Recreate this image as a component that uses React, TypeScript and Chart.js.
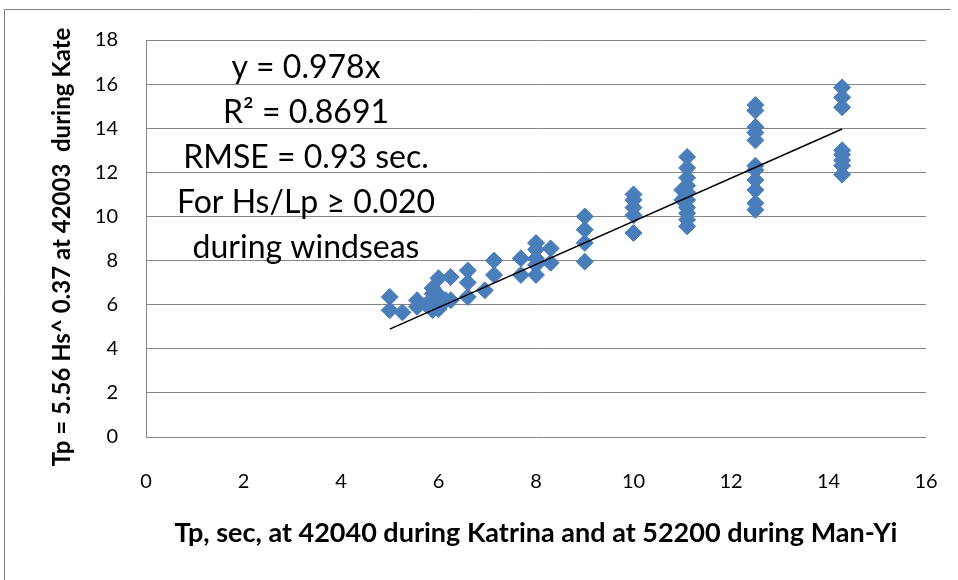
import React, { useEffect, useRef } from "react";
import { Chart, registerables } from "chart.js";

Chart.register(...registerables);

const xValues: number[] = [
  5.0, 5.0,
  5.26,
  5.56, 5.56,
  5.75,
  5.88, 5.88, 5.88, 5.88,
  6.0, 6.0, 6.0,
  6.15,
  6.25, 6.25,
  6.6, 6.6, 6.6,
  6.95,
  7.14, 7.14,
  7.69, 7.69,
  8.0, 8.0, 8.0, 8.0, 8.0,
  8.3, 8.3,
  9.0, 9.0, 9.0, 9.0,
  10.0, 10.0, 10.0, 10.0, 10.0,
  11.0, 11.0,
  11.1, 11.1, 11.1, 11.1, 11.1, 11.1, 11.1, 11.1, 11.1, 11.1,
  12.5, 12.5, 12.5, 12.5, 12.5, 12.5, 12.5, 12.5, 12.5, 12.5, 12.5,
  14.28, 14.28, 14.28, 14.28, 14.28, 14.28, 14.28, 14.28,
];

const yValues: number[] = [
  6.35, 5.75,
  5.65,
  6.2, 5.9,
  6.0,
  6.5, 6.75, 6.1, 5.75,
  7.2, 6.45, 5.8,
  6.2,
  7.25, 6.2,
  7.55, 7.0, 6.35,
  6.65,
  8.0, 7.35,
  8.1, 7.35,
  8.8, 8.5, 8.1, 7.8, 7.35,
  8.55, 7.9,
  10.0, 9.4, 8.8, 7.95,
  11.0, 10.75, 10.4, 10.05, 9.25,
  11.2, 10.75,
  12.7, 12.2, 11.75, 11.4, 11.1, 10.75, 10.4, 10.15, 9.85, 9.55,
  15.05, 14.8, 14.05, 13.8, 13.45, 12.3, 12.1, 11.65, 11.2, 10.6, 10.3,
  15.85, 15.4, 14.95, 13.0, 12.8, 12.55, 12.3, 11.9,
];

const trendSlope = 0.978;
const trendRange: number[] = [5.0, 14.28];

const annotationLines: string[] = [
  "y = 0.978x",
  "R\u00B2 = 0.8691",
  "RMSE = 0.93 sec.",
  "For Hs/Lp \u2265 0.020",
  "during windseas",
];

const xTitle = "Tp, sec, at 42040 during Katrina and at 52200 during Man-Yi";
const yTitle = "Tp = 5.56 Hs^ 0.37 at 42003  during Kate";

const FONT = "Lato, 'Liberation Sans', Arial, sans-serif";

export default function App() {
  const ref = useRef<HTMLCanvasElement | null>(null);

  useEffect(() => {
    if (!ref.current) return;
    const points = xValues.map((x, i) => ({ x, y: yValues[i] }));
    const trend = trendRange.map((x) => ({ x, y: trendSlope * x }));

    const decor = {
      id: "decor",
      beforeDraw(chart: any) {
        const ctx = chart.ctx;
        ctx.save();
        ctx.fillStyle = "#ffffff";
        ctx.fillRect(0, 0, chart.width, chart.height);
        ctx.strokeStyle = "#7f7f7f";
        ctx.lineWidth = 1;
        ctx.beginPath();
        ctx.moveTo(4.5, 580);
        ctx.lineTo(4.5, 9.5);
        ctx.lineTo(950.5, 9.5);
        ctx.stroke();
        ctx.restore();
      },
      afterDraw(chart: any) {
        const ctx = chart.ctx;
        ctx.save();
        ctx.fillStyle = "#000000";
        ctx.font = `32px ${FONT}`;
        ctx.textAlign = "center";
        ctx.textBaseline = "middle";
        const cx = 306;
        annotationLines.forEach((t, i) => {
          ctx.fillText(t, cx, 68 + i * 45);
        });
        ctx.restore();

        // y-axis title (slightly below the plot centre, as in the reference)
        ctx.save();
        ctx.fillStyle = "#000000";
        ctx.font = `bold 24px ${FONT}`;
        ctx.textAlign = "center";
        ctx.textBaseline = "middle";
        ctx.translate(62, 247);
        ctx.rotate(-Math.PI / 2);
        ctx.fillText(yTitle, 0, 0);
        ctx.restore();
      },
    };

    const chart = new Chart(ref.current, {
      type: "scatter",
      data: {
        datasets: [
          {
            type: "line",
            data: trend,
            borderColor: "#000000",
            borderWidth: 1.5,
            pointRadius: 0,
            fill: false,
          } as any,
          {
            data: points,
            pointStyle: "rectRot",
            pointRadius: 8.5,
            backgroundColor: "#4a7ebb",
            borderColor: "#4a7ebb",
            borderWidth: 1,
          },
        ],
      },
      options: {
        animation: false,
        responsive: false,
        maintainAspectRatio: false,
        layout: { padding: { left: 0, right: 32, top: 40, bottom: 0 } },
        plugins: {
          legend: { display: false },
          tooltip: { enabled: false },
        },
        scales: {
          x: {
            type: "linear",
            min: 0,
            max: 16,
            ticks: {
              stepSize: 2,
              padding: 33,
              color: "#000000",
              font: { family: FONT, size: 20 },
            },
            grid: { display: false, drawTicks: false },
            border: { display: false },
            title: {
              display: true,
              text: xTitle,
              color: "#000000",
              font: { family: FONT, size: 27, weight: "bold" },
              padding: { top: 0, bottom: 31 },
            },
            afterFit(scale: any) {
              scale.height = 143;
              scale.paddingRight = 12;
              scale.paddingLeft = 12;
            },
          },
          y: {
            type: "linear",
            min: 0,
            max: 18,
            ticks: {
              stepSize: 2,
              padding: 28,
              color: "#000000",
              font: { family: FONT, size: 20 },
            },
            grid: { color: "#868686", lineWidth: 1, drawTicks: false },
            border: { display: true, color: "#868686", width: 1 },
            title: { display: false },
            afterFit(scale: any) {
              scale.width = 146;
            },
          },
        },
      },
      plugins: [decor],
    });
    return () => chart.destroy();
  }, []);

  return (
    <div style={{ position: "fixed", left: 0, top: 0, width: 958, height: 580, background: "#fff" }}>
      <canvas ref={ref} width={958} height={580} style={{ width: 958, height: 580 }} />
    </div>
  );
}
